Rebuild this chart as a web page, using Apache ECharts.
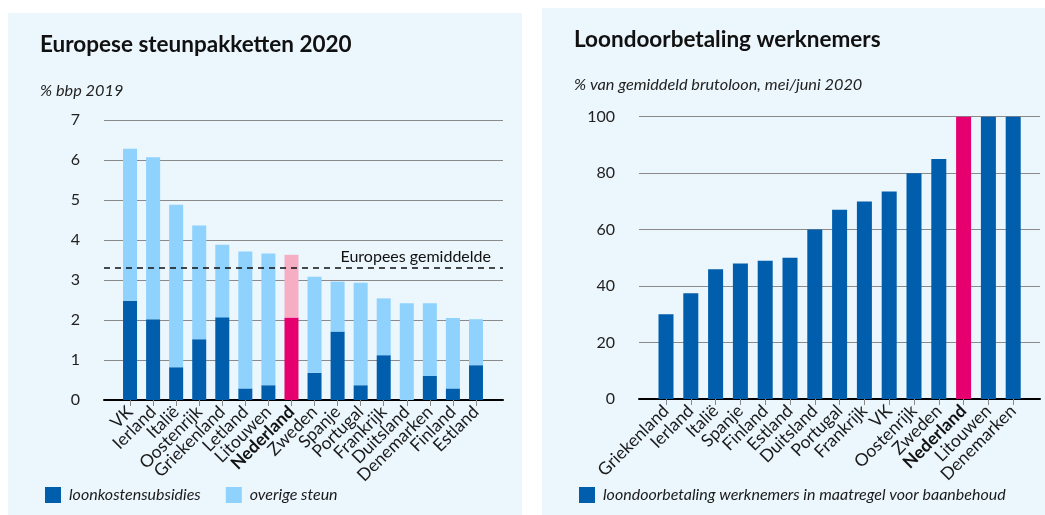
<!DOCTYPE html>
<html>
<head>
<meta charset="utf-8">
<script src="https://cdn.jsdelivr.net/npm/echarts@6/dist/echarts.min.js"></script>
<style>
  html, body { margin: 0; padding: 0; background: #fff; }
  #main { width: 1045px; height: 515px; }
</style>
</head>
<body>
<div id="main"></div>
<script>
// linker grafiek: steunpakketten in % bbp 2019
const steunLanden = ['VK', 'Ierland', 'Italië', 'Oostenrijk', 'Griekenland', 'Letland', 'Litouwen', 'Nederland',
  'Zweden', 'Spanje', 'Portugal', 'Frankrijk', 'Duitsland', 'Denemarken', 'Finland', 'Estland'];
const loonkostensubsidies = [2.48, 2.02, 0.82, 1.52, 2.07, 0.29, 0.37, 2.06, 0.68, 1.71, 0.37, 1.12, 0, 0.6, 0.29, 0.87];
const overigeSteun = [3.8, 4.05, 4.06, 2.84, 1.81, 3.42, 3.29, 1.57, 2.4, 1.25, 2.56, 1.42, 2.42, 1.82, 1.76, 1.15];
const europeesGemiddelde = 3.3;
const steunTicks = [0, 7, 1]; // min, max, interval

// rechter grafiek: loondoorbetaling in % van gemiddeld brutoloon
const loonLanden = ['Griekenland', 'Ierland', 'Italië', 'Spanje', 'Finland', 'Estland', 'Duitsland', 'Portugal',
  'Frankrijk', 'VK', 'Oostenrijk', 'Zweden', 'Nederland', 'Litouwen', 'Denemarken'];
const loondoorbetaling = [30, 37.5, 46, 48, 49, 50, 60, 67, 70, 73.5, 80, 85, 100, 100, 100];
const loonTicks = [0, 100, 20];

const NL = 'Nederland';
const donkerblauw = '#005eac';
const lichtblauw = '#8ed2fd';
const magenta = '#e6006f';
const roze = '#f5aec4';
const paneel = '#ebf6fd';
const fontFamily = 'Lato';

function kleurPerLand(landen, waarden, gewoon, nl) {
  return waarden.map((v, i) => ({
    value: v,
    itemStyle: { color: landen[i] === NL ? nl : gewoon }
  }));
}

function categorieAs(landen, gridIndex) {
  return {
    type: 'category',
    gridIndex: gridIndex,
    data: landen,
    axisLine: { show: false },
    axisTick: { show: true, alignWithLabel: true, interval: 0, length: 6, lineStyle: { color: '#8a8a8a' } },
    axisLabel: {
      interval: 0,
      rotate: 45,
      margin: 9,
      fontSize: 17.5,
      color: '#1a1a1a',
      fontFamily: fontFamily,
      formatter: v => v === NL ? '{b|' + v + '}' : v,
      rich: { b: { fontWeight: 'bold', fontSize: 17.5, color: '#111', fontFamily: fontFamily } }
    }
  };
}

function rasterY(ticks, gridIndex) {
  return {
    type: 'value', gridIndex: gridIndex,
    min: ticks[0], max: ticks[1], interval: ticks[2],
    axisLine: { show: false }, axisTick: { show: false },
    axisLabel: { fontSize: 16, color: '#222', margin: 24, fontFamily: fontFamily },
    splitLine: { lineStyle: { color: '#8a8a8a', width: 1 } }
  };
}

function basisX(gridIndex) {
  return {
    type: 'value', gridIndex: gridIndex, min: 0, max: 1,
    axisLine: { show: true, lineStyle: { color: '#000', width: 2 } },
    axisTick: { show: false }, axisLabel: { show: false }, splitLine: { show: false }
  };
}

function verborgenY(ticks, gridIndex) {
  return { type: 'value', gridIndex: gridIndex, min: ticks[0], max: ticks[1], interval: ticks[2], show: false };
}

const titelStijl = { fontSize: 22.5, fontWeight: 'bold', color: '#111', fontFamily: fontFamily };
const onderStijl = { fontSize: 16.3, fontStyle: 'italic', fontWeight: 'normal', color: '#222', fontFamily: fontFamily };
const legendaStijl = { fontSize: 16, fontStyle: 'italic', color: '#1a1a1a', padding: [0, 0, 0, 3], fontFamily: fontFamily };

const chart = echarts.init(document.getElementById('main'));
chart.setOption({
  animation: false,
  backgroundColor: '#fff',
  textStyle: { fontFamily: fontFamily },
  graphic: [
    { type: 'rect', z: -10, shape: { x: 8, y: 13, width: 514, height: 502 }, style: { fill: paneel } },
    { type: 'rect', z: -10, shape: { x: 542, y: 8, width: 503, height: 507 }, style: { fill: paneel } }
  ],
  title: [
    { text: 'Europese steunpakketten 2020', left: 35, top: 28, textStyle: titelStijl },
    { text: '% bbp 2019', left: 35, top: 78, textStyle: onderStijl },
    { text: 'Loondoorbetaling werknemers', left: 569, top: 23, textStyle: titelStijl },
    { text: '% van gemiddeld brutoloon, mei/juni 2020', left: 569, top: 72, textStyle: onderStijl }
  ],
  legend: [
    { data: ['loonkostensubsidies', 'overige steun'], left: 40, top: 482, icon: 'rect',
      itemWidth: 16, itemHeight: 16, itemGap: 25, textStyle: legendaStijl },
    { data: ['loondoorbetaling werknemers in maatregel voor baanbehoud'], left: 574, top: 482, icon: 'rect',
      itemWidth: 16, itemHeight: 16, textStyle: legendaStijl }
  ],
  grid: [
    { left: 118.5, top: 120, width: 369, height: 280 },
    { left: 104, top: 120, width: 399, height: 280 },
    { left: 653.6, top: 116.7, width: 372, height: 282.3 },
    { left: 639, top: 116.7, width: 401, height: 282.3 }
  ],
  xAxis: [categorieAs(steunLanden, 0), basisX(1), categorieAs(loonLanden, 2), basisX(3)],
  yAxis: [verborgenY(steunTicks, 0), rasterY(steunTicks, 1), verborgenY(loonTicks, 2), rasterY(loonTicks, 3)],
  series: [
    {
      name: 'gemiddelde', type: 'line', xAxisIndex: 1, yAxisIndex: 1, data: [], z: 1,
      markLine: {
        silent: true, symbol: 'none',
        lineStyle: { type: [6, 5], color: '#111', width: 1.5 },
        label: { position: 'insideEndTop', formatter: 'Europees gemiddelde', fontSize: 16,
          color: '#111', distance: [12, 3], fontFamily: fontFamily },
        data: [{ yAxis: europeesGemiddelde }]
      }
    },
    {
      name: 'loonkostensubsidies', type: 'bar', stack: 'steun', xAxisIndex: 0, yAxisIndex: 0,
      barWidth: 14, itemStyle: { color: donkerblauw }, z: 3,
      data: kleurPerLand(steunLanden, loonkostensubsidies, donkerblauw, magenta)
    },
    {
      name: 'overige steun', type: 'bar', stack: 'steun', xAxisIndex: 0, yAxisIndex: 0,
      barWidth: 14, itemStyle: { color: lichtblauw }, z: 3,
      data: kleurPerLand(steunLanden, overigeSteun, lichtblauw, roze)
    },
    {
      name: 'loondoorbetaling werknemers in maatregel voor baanbehoud', type: 'bar', xAxisIndex: 2, yAxisIndex: 2,
      barWidth: 15, itemStyle: { color: donkerblauw }, z: 3,
      data: kleurPerLand(loonLanden, loondoorbetaling, donkerblauw, magenta)
    }
  ]
});
</script>
</body>
</html>
